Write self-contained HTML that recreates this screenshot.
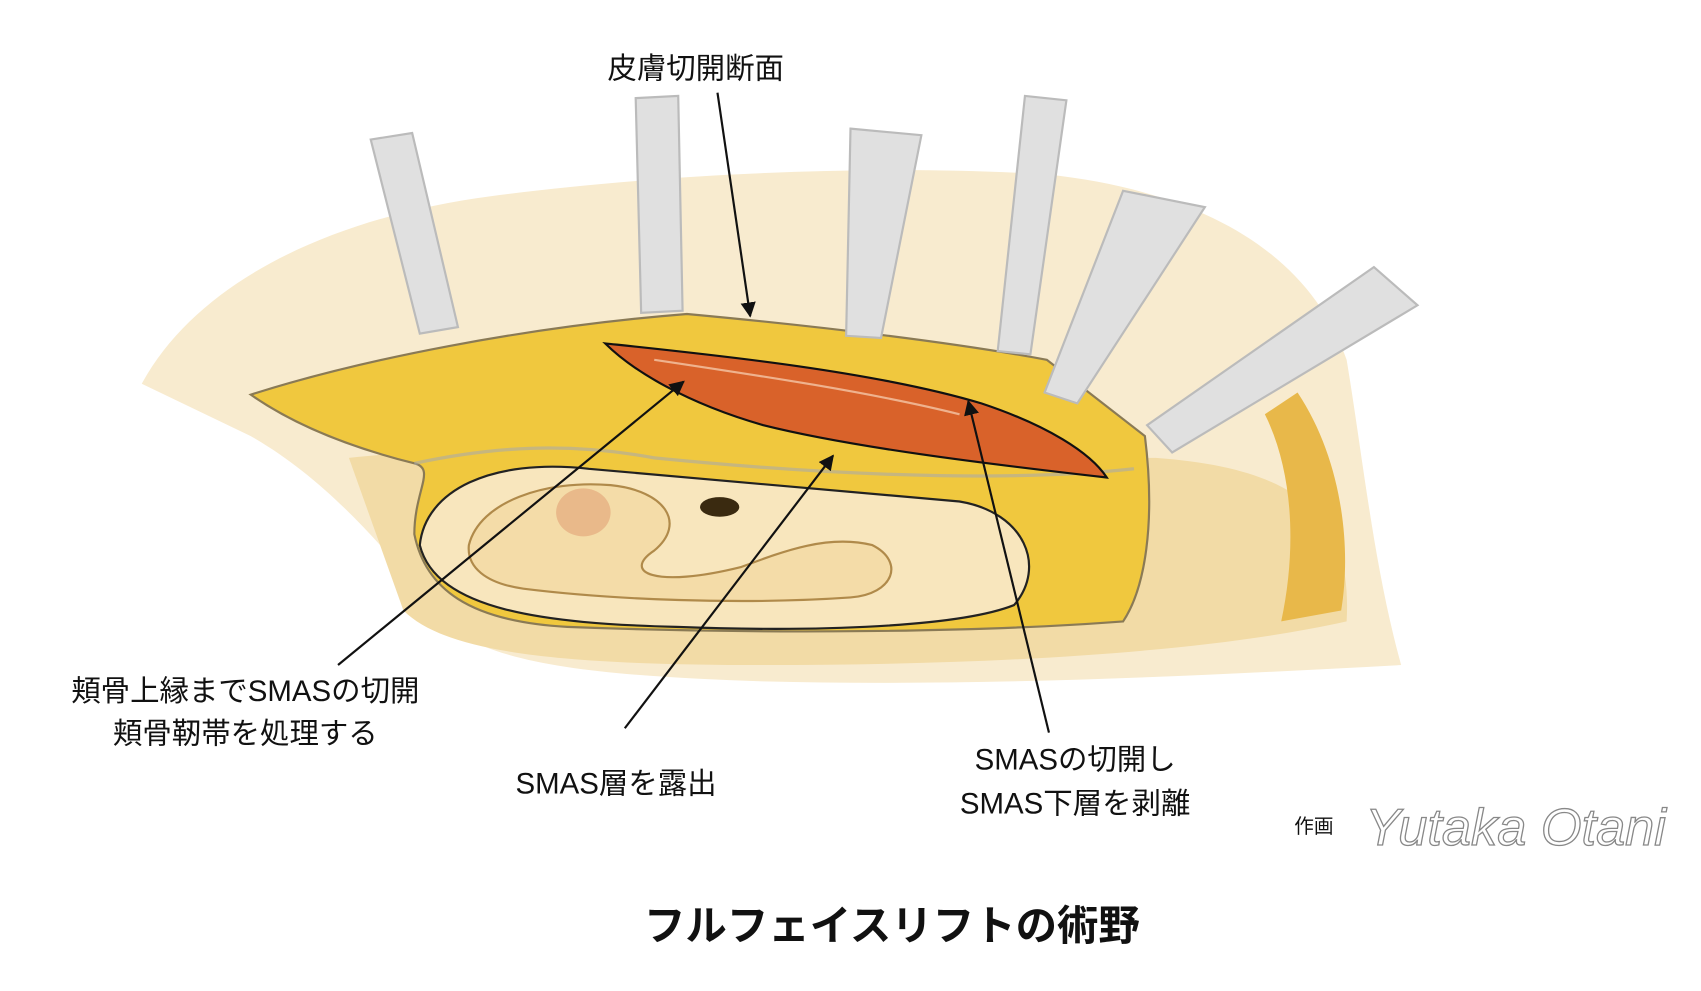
<!DOCTYPE html>
<html><head><meta charset="utf-8"><style>
html,body{margin:0;padding:0;background:#fff;width:1701px;height:991px;overflow:hidden}
svg{display:block}
text{font-family:"Liberation Sans","Noto Sans CJK JP",sans-serif;fill:#111}
</style></head><body>
<svg width="1701" height="991" viewBox="0 0 1560 909" preserveAspectRatio="none">
<defs><marker id="a" viewBox="0 0 10 10" refX="9" refY="5" markerWidth="7" markerHeight="7" orient="auto"><path d="M0,0L10,5L0,10z" fill="#111"/></marker></defs>
<path d="M130,352 C180,260 300,200 450,180 C600,160 800,150 960,160 C1100,175 1200,230 1235,330 C1250,420 1260,520 1285,610 C1100,620 900,630 700,625 C550,620 430,610 400,560 C350,500 300,440 230,400 Z" fill="#f8ebcf"/>
<path d="M320,420 C500,400 800,420 1060,420 C1200,430 1240,480 1235,570 C1100,600 900,610 700,610 C520,610 410,600 370,560 Z" fill="#f2dba6"/>
<path d="M1190,360 C1230,420 1240,500 1230,560 L1175,570 C1190,500 1185,430 1160,380Z" fill="#e8b84a"/>
<path d="M230,362 C330,330 480,300 630,288 C760,300 880,315 960,330 L1050,400 C1060,480 1050,540 1030,570 C900,580 700,582 520,575 C430,570 390,540 380,490 C380,450 400,430 380,425 C320,410 270,390 230,362 Z" fill="#f0c83e" stroke="#8a7a55" stroke-width="2"/>
<path d="M380,425 C450,410 520,405 600,420 C800,440 950,440 1040,430" fill="none" stroke="#aaa" stroke-width="3" opacity=".6"/>
<path d="M385,500 C390,450 450,420 540,430 C650,440 760,450 880,460 C940,470 960,520 930,555 C880,575 750,580 620,575 C500,572 400,560 385,500 Z" fill="#f8e6bd" stroke="#222" stroke-width="2"/>
<path d="M430,500 C440,460 500,440 560,445 C610,450 630,480 600,505 C570,525 600,540 680,520 C720,505 760,490 800,500 C830,515 820,545 780,548 C680,555 560,550 480,540 C445,535 428,520 430,500 Z" fill="#f4dca8" stroke="#b08a4a" stroke-width="2"/>
<ellipse cx="535" cy="470" rx="25" ry="22" fill="#e9b98a"/>
<ellipse cx="660" cy="465" rx="18" ry="9" fill="#3a2a10"/>
<path d="M555,315 C650,325 800,340 900,370 C960,390 1000,415 1015,438 C900,425 780,410 700,390 C630,370 580,340 555,315 Z" fill="#d9622a" stroke="#111" stroke-width="2"/>
<path d="M600,330 C700,345 800,360 880,380" stroke="#f4c7a8" stroke-width="2" fill="none" opacity=".8"/>
<g fill="#e0e0e0" stroke="#bbb" stroke-width="2">
<path d="M340,128 L378,122 L420,300 L385,306Z"/>
<path d="M583,90 L622,88 L626,285 L588,287Z"/>
<path d="M780,118 L845,124 L808,310 L776,308Z"/>
<path d="M940,88 L978,92 L945,325 L915,322Z"/>
<path d="M1030,175 L1105,190 L988,370 L958,360Z"/>
<path d="M1260,245 L1300,280 L1075,415 L1052,390Z"/>
</g>
<g stroke="#111" stroke-width="2" fill="none">
<line x1="658" y1="85" x2="688" y2="290" marker-end="url(#a)"/>
<line x1="310" y1="610" x2="627" y2="350" marker-end="url(#a)"/>
<line x1="573" y1="668" x2="764" y2="418" marker-end="url(#a)"/>
<line x1="962" y1="672" x2="888" y2="368" marker-end="url(#a)"/>
</g>
<text x="638" y="72" font-size="27" text-anchor="middle">皮膚切開断面</text>
<text x="225" y="643" font-size="27" text-anchor="middle">頬骨上縁までSMASの切開</text>
<text x="225" y="682" font-size="27" text-anchor="middle">頬骨靭帯を処理する</text>
<text x="565" y="728" font-size="27" text-anchor="middle">SMAS層を露出</text>
<text x="986" y="706" font-size="27" text-anchor="middle">SMASの切開し</text>
<text x="986" y="746" font-size="27" text-anchor="middle">SMAS下層を剥離</text>
<text x="1205" y="764" font-size="18" text-anchor="middle">作画</text>
<text x="1390" y="775" font-size="48" text-anchor="middle" font-style="italic" font-family="Liberation Serif" style="fill:none;stroke:#888;stroke-width:1.2">Yutaka Otani</text>
<text x="818" y="862" font-size="38" font-weight="bold" text-anchor="middle">フルフェイスリフトの術野</text>
</svg>
</body></html>
